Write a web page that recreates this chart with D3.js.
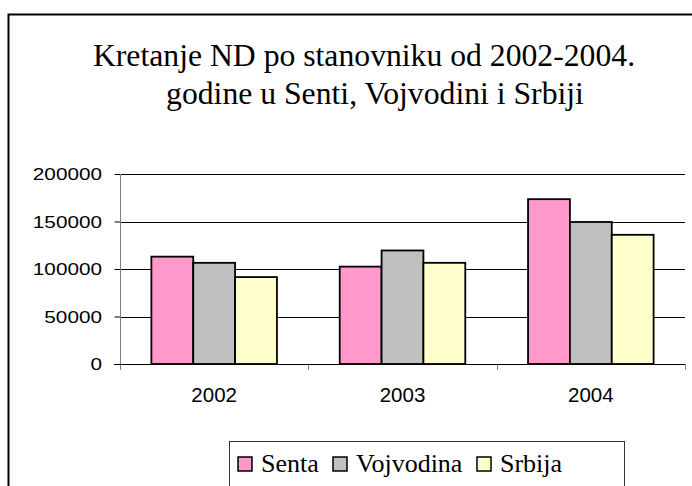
<!DOCTYPE html>
<html>
<head>
<meta charset="utf-8">
<script src="https://cdn.jsdelivr.net/npm/d3@7"></script>
<style>
  body { margin: 0; background: #fff; }
  svg { display: block; }
</style>
</head>
<body>
<svg id="chart" width="692" height="486"></svg>
<script>
// data
var years = ["2002", "2003", "2004"];
var series = ["Senta", "Vojvodina", "Srbija"];
var senta = [113000, 102500, 173500];
var vojvodina = [106500, 119500, 149500];
var srbija = [91500, 106500, 136000];
var yTicks = [0, 50000, 100000, 150000, 200000];
var colors = ["#ff99cc", "#c0c0c0", "#ffffcc"];
var titleLines = ["Kretanje ND po stanovniku od 2002-2004.", "godine u Senti, Vojvodini i Srbiji"];

var values = [senta, vojvodina, srbija];

var svg = d3.select("#chart");

// outer frame (runs off the right / bottom edge)
svg.append("rect")
    .attr("x", 8.5).attr("y", 14.5)
    .attr("width", 720).attr("height", 520)
    .attr("fill", "none")
    .attr("stroke", "#000")
    .attr("stroke-width", 2);

// title
svg.selectAll(".title")
    .data(titleLines)
    .enter()
    .append("text")
    .attr("class", "title")
    .attr("x", function (d, i) { return i === 0 ? 364 : 375; })
    .attr("y", function (d, i) { return 66 + i * 38; })
    .attr("text-anchor", "middle")
    .style("font-family", "'Liberation Serif', 'Times New Roman', serif")
    .style("font-size", "31.7px")
    .text(function (d) { return d; });

// scales
var x0 = d3.scaleBand().domain(years).range([120, 685]);
var x1 = d3.scaleBand().domain(series).range([0, x0.bandwidth()]).paddingOuter(0.75);
var y = d3.scaleLinear().domain([0, 200000]).range([364, 174]);

// gridlines
svg.selectAll(".grid")
    .data(yTicks.slice(1))
    .enter()
    .append("line")
    .attr("x1", 120).attr("x2", 685)
    .attr("y1", function (d) { return Math.round(y(d)) + 0.5; })
    .attr("y2", function (d) { return Math.round(y(d)) + 0.5; })
    .attr("stroke", "#000");

// y axis
var yAxis = svg.append("g")
    .attr("transform", "translate(120.5,0)")
    .call(d3.axisLeft(y).tickValues(yTicks).tickSize(6).tickFormat(""));
yAxis.select(".domain").remove();
yAxis.selectAll(".tick line").attr("stroke", "#000");
svg.append("line")
    .attr("x1", 120.5).attr("x2", 120.5)
    .attr("y1", 174).attr("y2", 370)
    .attr("stroke", "#808080");

// y tick labels (glyphs look stretched in the picture)
svg.selectAll(".ylab")
    .data(yTicks)
    .enter()
    .append("text")
    .attr("class", "ylab")
    .attr("transform", function (d) { return "translate(102," + (y(d) + 6) + ") scale(1.22,1)"; })
    .attr("text-anchor", "end")
    .style("font-family", "'Liberation Sans', Arial, sans-serif")
    .style("font-size", "17px")
    .text(function (d) { return d; });

// category ticks
svg.selectAll(".xtick")
    .data(x0.range().concat(years.slice(1).map(function (d) { return x0(d); })))
    .enter()
    .append("line")
    .attr("x1", function (d) { return Math.round(d) + 0.5; })
    .attr("x2", function (d) { return Math.round(d) + 0.5; })
    .attr("y1", 364).attr("y2", 370)
    .attr("stroke", "#808080");

// bars
var groups = svg.selectAll(".year")
    .data(years)
    .enter()
    .append("g")
    .attr("transform", function (d) { return "translate(" + x0(d) + ",0)"; });

groups.selectAll("rect")
    .data(function (d, i) {
        return series.map(function (s, j) { return { s: s, v: values[j][i], c: colors[j] }; });
    })
    .enter()
    .append("rect")
    .attr("x", function (d) { return x1(d.s); })
    .attr("y", function (d) { return y(d.v); })
    .attr("width", x1.bandwidth())
    .attr("height", function (d) { return y(0) - y(d.v); })
    .attr("fill", function (d) { return d.c; })
    .attr("stroke", "#000")
    .attr("stroke-width", 1.8);

// x axis line
svg.append("line")
    .attr("x1", 114).attr("x2", 685)
    .attr("y1", 364.5).attr("y2", 364.5)
    .attr("stroke", "#000");

// category labels
svg.selectAll(".xlab")
    .data(years)
    .enter()
    .append("text")
    .attr("x", function (d) { return x0(d) + x0.bandwidth() / 2; })
    .attr("y", 402)
    .attr("text-anchor", "middle")
    .style("font-family", "'Liberation Sans', Arial, sans-serif")
    .style("font-size", "20.5px")
    .text(function (d) { return d; });

// legend
svg.append("rect")
    .attr("x", 229.5).attr("y", 441.5)
    .attr("width", 395).attr("height", 60)
    .attr("fill", "#fff")
    .attr("stroke", "#333");

var legendX = [238, 333, 477];
var legend = svg.selectAll(".leg")
    .data(series)
    .enter()
    .append("g")
    .attr("transform", function (d, i) { return "translate(" + legendX[i] + ",457)"; });
legend.append("rect")
    .attr("width", 14).attr("height", 14)
    .attr("fill", function (d, i) { return colors[i]; })
    .attr("stroke", "#000")
    .attr("stroke-width", 1.5);
legend.append("text")
    .attr("x", 23).attr("y", 15)
    .style("font-family", "'Liberation Serif', 'Times New Roman', serif")
    .style("font-size", "26px")
    .text(function (d) { return d; });
</script>
</body>
</html>
